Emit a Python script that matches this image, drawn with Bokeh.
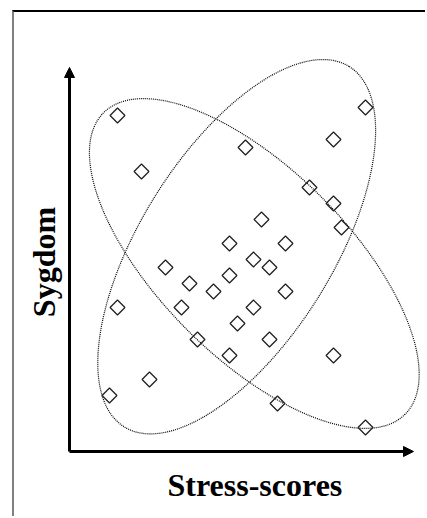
import numpy as np
from bokeh.plotting import figure
from bokeh.models import Arrow, NormalHead, Range1d, FixedTicker, Title
from bokeh.embed import file_html
from bokeh.resources import INLINE

# Observations (arbitrary score units)
stress = [6, 37, 33, 22, 9, 30, 33, 34, 24, 20, 27, 23, 25, 12, 20,
          15, 18, 27, 6, 14, 23, 21, 16, 25, 20, 33, 10, 5, 26, 37]
sygdom = [42, 43, 39, 38, 35, 33, 31, 28, 29, 26, 26, 24, 23, 23, 22,
          21, 20, 20, 18, 18, 18, 16, 14, 14, 12, 12, 9, 7, 6, 3]

# Two cluster ellipses (centre, full axes, rotation in degrees)
ell_x = [23.1, 20.9]
ell_y = [23.5, 25.6]
ell_w = [53.3, 53.1]
ell_h = [23.6, 24.0]
ell_angle = [-45, 58]

# Axis extents
x_axis_end = 43
y_axis_end = 48

x_label = "Stress-scores"
y_label = "Sygdom"

FONT = "Liberation Serif"
W, H = 413, 506

p = figure(width=W, height=H, output_backend="svg", toolbar_location=None,
           x_range=Range1d(-1.0, 44.75), y_range=Range1d(-2.0, 49.375),
           min_border_left=47, min_border_right=0, min_border_top=44,
           min_border_bottom=51,
           y_axis_label=y_label,
           styles={"border-top": "2px solid #000000",
                   "border-left": "2px solid #808080",
                   "margin-left": "12px", "margin-top": "10px"})

p.grid.visible = False
p.outline_line_color = None
p.background_fill_color = "white"
p.border_fill_color = "white"

for ax in (p.xaxis[0], p.yaxis[0]):
    ax.ticker = FixedTicker(ticks=[])
    ax.axis_line_color = None
    ax.major_tick_line_color = None
    ax.minor_tick_line_color = None
    ax.major_tick_out = 0
    ax.major_tick_in = 0
    ax.minor_tick_out = 0
    ax.major_label_standoff = 0
    ax.axis_label_text_font = FONT
    ax.axis_label_text_font_style = "bold"
    ax.axis_label_text_font_size = "32px"
    ax.axis_label_text_color = "black"

p.yaxis[0].axis_label_standoff = 0

p.add_layout(Title(text=x_label, align="left", offset=106, vertical_align="top",
                   standoff=-2, text_font=FONT, text_font_style="bold",
                   text_font_size="32px", text_color="black"), "below")

p.ellipse(x=ell_x, y=ell_y, width=ell_w, height=ell_h, angle=ell_angle,
          angle_units="deg", fill_color=None, line_color="black",
          line_width=1.2, line_dash="1 1")

p.scatter(stress, sygdom, marker="square", size=10.5, angle=45,
          angle_units="deg", fill_color=None, line_color="#222222",
          line_width=1.3)

p.add_layout(Arrow(end=NormalHead(size=10, fill_color="black", line_color="black", line_width=1),
                   x_start=0, y_start=0, x_end=x_axis_end, y_end=0,
                   line_width=3, line_color="black"))
p.add_layout(Arrow(end=NormalHead(size=10, fill_color="black", line_color="black", line_width=1),
                   x_start=0, y_start=0, x_end=0, y_end=y_axis_end,
                   line_width=3, line_color="black"))

open("out.html", "w").write(file_html(p, INLINE))
